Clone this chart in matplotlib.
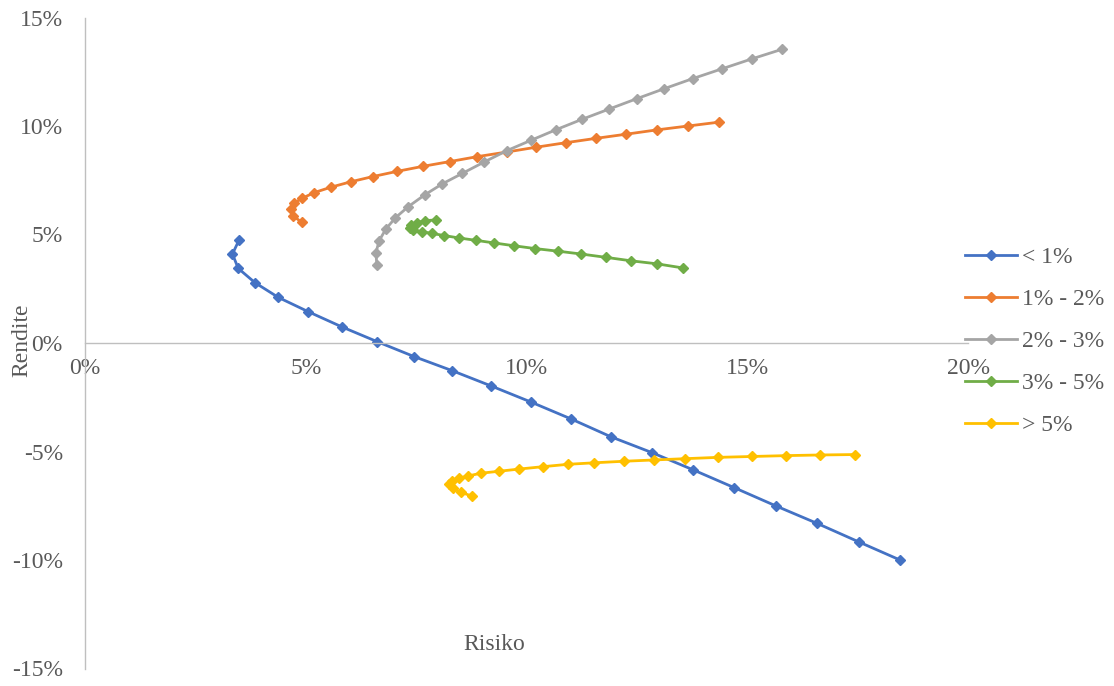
import matplotlib
matplotlib.use('Agg')
import matplotlib.pyplot as plt
from matplotlib.ticker import PercentFormatter, MultipleLocator

plt.rcParams['font.family'] = ['Liberation Serif', 'DejaVu Serif']
plt.rcParams['axes.unicode_minus'] = False

# Risiko / Rendite in Prozent, je Gruppe
labels = ['< 1%', '1% - 2%', '2% - 3%', '3% - 5%', '> 5%']
colors = ['#4472C4', '#ED7D31', '#A5A5A5', '#70AD47', '#FFC000']

risk_1 = [3.49, 3.34, 3.47, 3.85, 4.38, 5.06, 5.81, 6.62, 7.46, 8.31, 9.20,
          10.10, 11.01, 11.91, 12.84, 13.78, 14.71, 15.64, 16.58, 17.52, 18.46]
ret_1 = [4.75, 4.10, 3.44, 2.78, 2.10, 1.44, 0.75, 0.06, -0.63, -1.27, -1.98,
         -2.72, -3.50, -4.32, -5.05, -5.85, -6.67, -7.50, -8.31, -9.16, -10.0]

risk_2 = [4.91, 4.72, 4.66, 4.73, 4.92, 5.19, 5.57, 6.02, 6.52, 7.07, 7.65,
          8.26, 8.89, 9.55, 10.21, 10.89, 11.57, 12.25, 12.95, 13.66, 14.37]
ret_2 = [5.56, 5.85, 6.16, 6.44, 6.67, 6.93, 7.18, 7.43, 7.67, 7.91, 8.14,
         8.36, 8.59, 8.80, 9.02, 9.23, 9.43, 9.62, 9.82, 10.00, 10.18]

risk_3 = [6.61, 6.59, 6.66, 6.81, 7.03, 7.32, 7.69, 8.09, 8.55, 9.04, 9.55,
          10.10, 10.67, 11.26, 11.87, 12.50, 13.12, 13.76, 14.42, 15.10, 15.78]
ret_3 = [3.59, 4.16, 4.70, 5.24, 5.77, 6.28, 6.82, 7.33, 7.82, 8.34, 8.86,
         9.34, 9.83, 10.31, 10.78, 11.26, 11.72, 12.18, 12.63, 13.09, 13.53]

risk_4 = [7.95, 7.70, 7.51, 7.38, 7.35, 7.44, 7.63, 7.86, 8.14, 8.47, 8.86,
          9.27, 9.72, 10.20, 10.72, 11.24, 11.79, 12.36, 12.95, 13.54]
ret_4 = [5.67, 5.64, 5.54, 5.44, 5.31, 5.21, 5.13, 5.05, 4.95, 4.84, 4.73,
         4.61, 4.48, 4.35, 4.23, 4.10, 3.95, 3.79, 3.65, 3.46]

risk_5 = [8.76, 8.51, 8.33, 8.25, 8.31, 8.46, 8.67, 8.97, 9.38, 9.83, 10.37,
          10.94, 11.54, 12.20, 12.89, 13.60, 14.34, 15.10, 15.88, 16.65, 17.45]
ret_5 = [-7.05, -6.88, -6.70, -6.51, -6.35, -6.24, -6.13, -6.00, -5.91, -5.81, -5.70,
         -5.59, -5.52, -5.45, -5.39, -5.33, -5.27, -5.23, -5.19, -5.16, -5.14]

series = [(risk_1, ret_1), (risk_2, ret_2), (risk_3, ret_3), (risk_4, ret_4), (risk_5, ret_5)]

fs = 17

fig = plt.figure(figsize=(11.14, 6.86), dpi=100)
ax = fig.add_axes([85 / 1114, 17.5 / 686, 883 / 1114, 651 / 686])

for (x, y), lab, col in zip(series, labels, colors):
    ax.plot(x, y, color=col, lw=2.0, marker='D', ms=5.2, label=lab)

ax.set_xlim(0, 20)
ax.set_ylim(-15, 15)
ax.xaxis.set_major_locator(MultipleLocator(5))
ax.yaxis.set_major_locator(MultipleLocator(5))
ax.xaxis.set_major_formatter(PercentFormatter(decimals=0))
ax.yaxis.set_major_formatter(PercentFormatter(decimals=0))

for s in ['top', 'right']:
    ax.spines[s].set_visible(False)
ax.spines['bottom'].set_position(('data', 0))
for s in ['left', 'bottom']:
    ax.spines[s].set_color('#BFBFBF')
    ax.spines[s].set_linewidth(1.0)

ax.tick_params(axis='both', length=0, labelsize=fs, labelcolor='#595959')
ax.tick_params(axis='y', pad=16)
ax.tick_params(axis='x', pad=11)

fig.text(494 / 1114, 1 - 645 / 686, 'Risiko', ha='center', va='center',
         fontsize=fs, color='#595959')
fig.text(22 / 1114, 1 - 340 / 686, 'Rendite', ha='center', va='center',
         rotation=90, fontsize=fs, color='#595959')

leg = fig.legend(loc='center left', bbox_to_anchor=(965 / 1114, 1 - 341.5 / 686),
                 frameon=False, fontsize=fs, handlelength=2.2, handletextpad=0.2,
                 labelspacing=0.87, borderpad=0, borderaxespad=0, numpoints=1)
for t in leg.get_texts():
    t.set_color('#595959')

fig.savefig('out.png', dpi=100)
